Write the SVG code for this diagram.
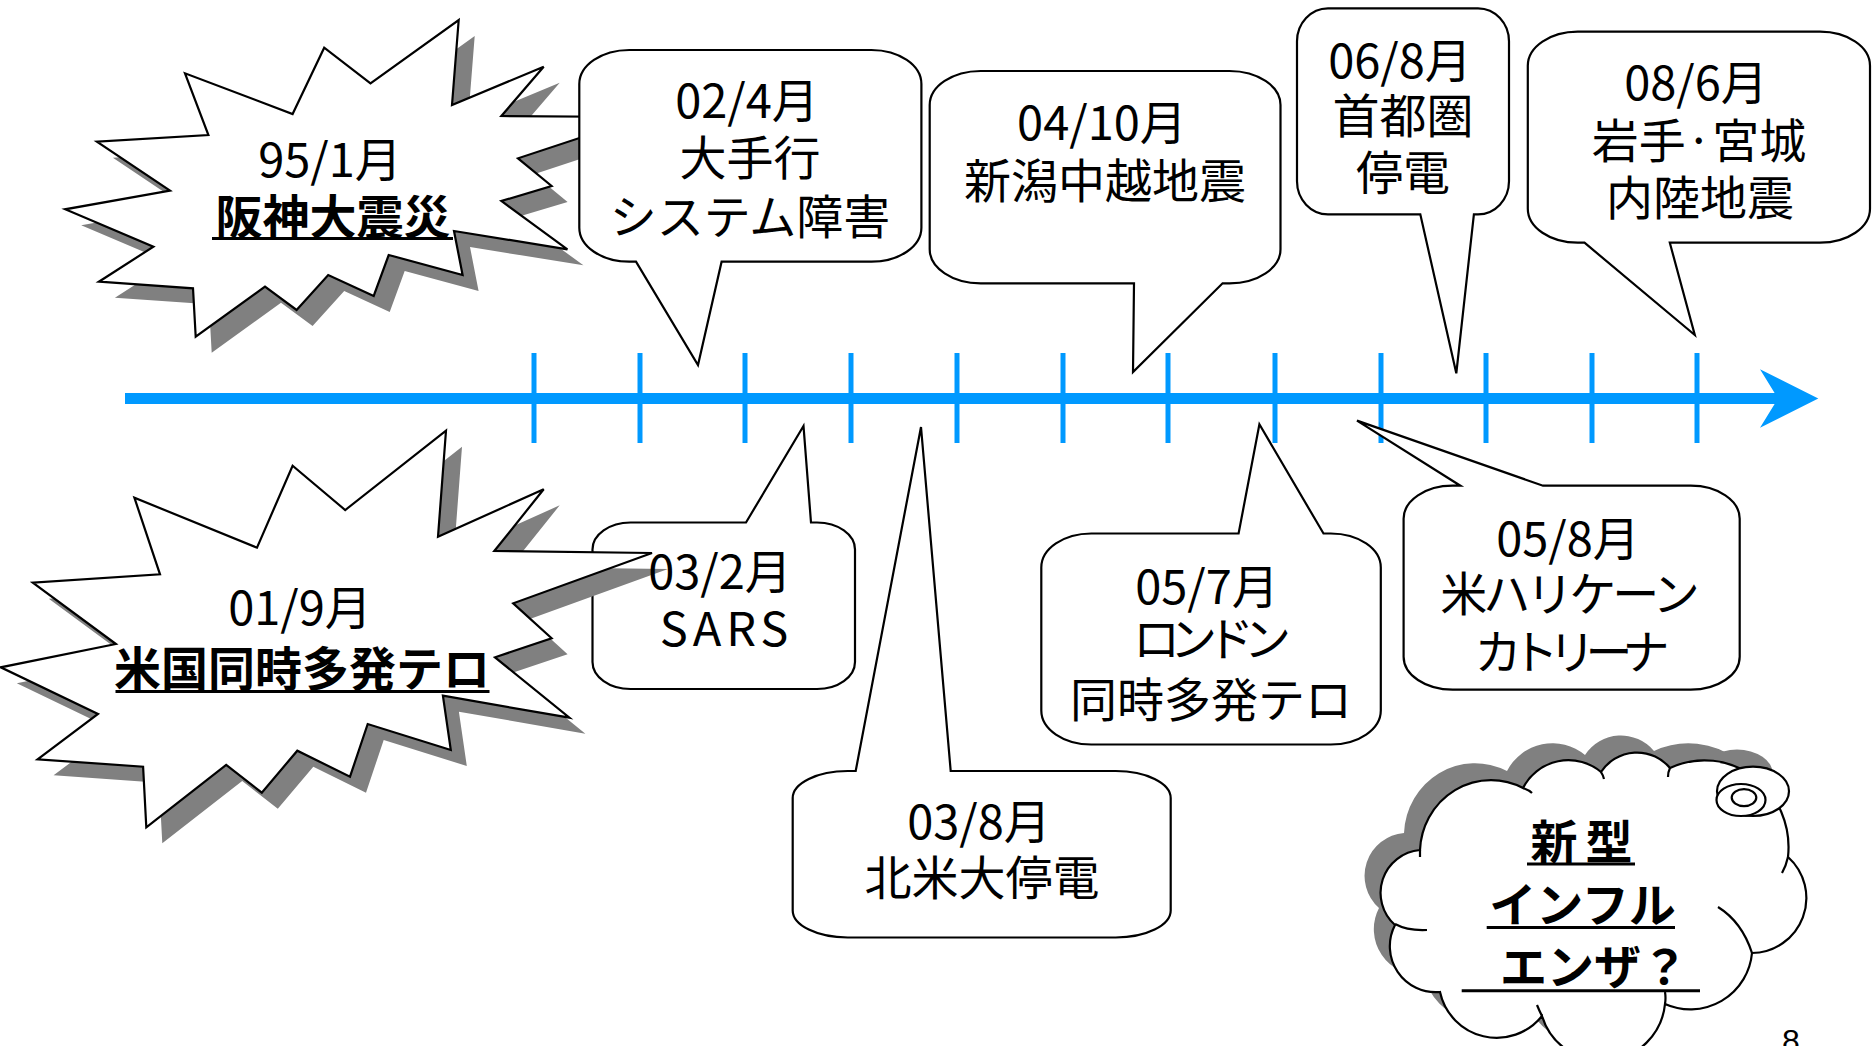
<svg xmlns="http://www.w3.org/2000/svg" xmlns:xlink="http://www.w3.org/1999/xlink" width="1873" height="1046" viewBox="0 0 1873 1046">
<style>
.o{fill:#fff;stroke:#000;stroke-width:2.2;stroke-linejoin:miter}
.st{fill:none;stroke:#000;stroke-width:2.2}
.sh{fill:#808080;stroke:none}
.t{font-family:"Noto Sans CJK JP","Noto Sans CJK SC","Liberation Sans",sans-serif;font-size:47px;text-anchor:middle;fill:#000}
.tb{font-weight:700}
.ul{stroke:#000;stroke-width:3}
.axis{stroke:#0099ff;stroke-width:11;fill:none}
.tick{stroke:#0099ff;stroke-width:5}
</style>
<defs>
<path id="burst1" d="M458.7,20 L452,105 L543.7,66.7 L501.4,116 L643,117 L518,158.3 L551.6,186 L501.4,201 L567.4,249.3 L454,231 L462.6,275 L388.7,255 L373.7,296 L328.2,275 L296.6,310 L265,286.7 L195.7,336.7 L193,288.3 L98.9,281.7 L153.4,246.7 L65.2,209.3 L170,190.7 L96.9,141.7 L208.4,135 L185,73.3 L292.6,114 L324.2,47.7 L370.5,83.3 Z"/>
<path id="burst2" d="M446,430.7 L438,536.7 L543.7,489.3 L494.3,551 L652,553 L513.2,603.3 L551.6,638.3 L495,657.3 L569.4,717.7 L442.9,695.7 L450.8,750 L367.7,724 L350,776.7 L297.3,750.7 L261.8,792.7 L226.2,765 L146.3,827.3 L143.1,766.7 L37.6,759.3 L98,714 L0.8,667.3 L115.9,644 L32.8,582.7 L160,574.3 L134.4,497.7 L257,547.7 L292.6,465.7 L345.2,510 Z"/>
<path id="cloud" d="M1395,925 A43 43 0 0 1 1420,850 A71 73 0 0 1 1523,788 A51 51 0 0 1 1601,772 A43 43 0 0 1 1670,768 A84 87 0 0 1 1788,857 A55 55 0 0 1 1752,953 A62 62 0 0 1 1665,1004 A63 63 0 0 1 1542,1016 A58 58 0 0 1 1440,992 A46 46 0 0 1 1395,925 Z"/>
</defs>

<g id="connectors">
<g id="timeline">
<line class="axis" x1="125" y1="398.5" x2="1780" y2="398.5"/>
<line class="tick" x1="534" y1="353" x2="534" y2="443"/>
<line class="tick" x1="640" y1="353" x2="640" y2="443"/>
<line class="tick" x1="745" y1="353" x2="745" y2="443"/>
<line class="tick" x1="851" y1="353" x2="851" y2="443"/>
<line class="tick" x1="957" y1="353" x2="957" y2="443"/>
<line class="tick" x1="1063" y1="353" x2="1063" y2="443"/>
<line class="tick" x1="1168" y1="353" x2="1168" y2="443"/>
<line class="tick" x1="1275" y1="353" x2="1275" y2="443"/>
<line class="tick" x1="1381" y1="353" x2="1381" y2="443"/>
<line class="tick" x1="1486" y1="353" x2="1486" y2="443"/>
<line class="tick" x1="1592" y1="353" x2="1592" y2="443"/>
<line class="tick" x1="1697" y1="353" x2="1697" y2="443"/>
<polygon points="1760,369.3 1818.3,398.5 1760,427.7 1778,398.5" fill="#0099ff"/>
</g>
</g>

<g id="n-hanshin">
<use xlink:href="#burst1" class="sh" transform="translate(16,16)"/>
<use xlink:href="#burst1" class="o"/>
<text class="t" x="330" y="177">95/1月</text>
<text class="t tb" x="333" y="234">阪神大震災</text>
<line class="ul" x1="212" y1="238.5" x2="453" y2="238.5"/>
</g>

<g id="n-0204">
<path class="o" d="M629.3,50 H871.4 A50 34 0 0 1 921.4,84 V227.7 A50 34 0 0 1 871.4,261.7 H721.6 L698,365 L636,261.7 H629.3 A50 34 0 0 1 579.3,227.7 V84 A50 34 0 0 1 629.3,50 Z"/>
<text class="t" x="747" y="118">02/4月</text>
<text class="t" x="750" y="175">大手行</text>
<text class="t" x="750" y="234">システム障害</text>
</g>

<g id="n-0410">
<path class="o" d="M980.7,71 H1229.5 A51 34 0 0 1 1280.5,105 V249.3 A51 34 0 0 1 1229.5,283.3 H1222.6 L1133,372 L1134,283.3 H980.7 A51 34 0 0 1 929.7,249.3 V105 A51 34 0 0 1 980.7,71 Z"/>
<text class="t" x="1102" y="140">04/10月</text>
<text class="t" x="1105" y="198">新潟中越地震</text>
</g>

<g id="n-0608">
<path class="o" d="M1328,8.3 H1478 A31 33 0 0 1 1509,41.3 V181.3 A31 33 0 0 1 1478,214.3 H1473.9 L1456.3,373.3 L1420.3,214.3 H1328 A31 33 0 0 1 1297,181.3 V41.3 A31 33 0 0 1 1328,8.3 Z"/>
<text class="t" x="1400" y="78">06/8月</text>
<text class="t" x="1403" y="133">首都圏</text>
<text class="t" x="1403" y="190">停電</text>
</g>

<g id="n-0806">
<path class="o" d="M1577.8,31.7 H1820 A50 34 0 0 1 1870,65.7 V208.7 A50 34 0 0 1 1820,242.7 H1669.8 L1694.8,335 L1584.5,242.7 H1577.8 A50 34 0 0 1 1527.8,208.7 V65.7 A50 34 0 0 1 1577.8,31.7 Z"/>
<text class="t" x="1696" y="100">08/6月</text>
<text class="t" x="1699" y="158">岩手·宮城</text>
<text class="t" x="1700" y="215">内陸地震</text>
</g>

<g id="n-sars">
<path class="o" d="M630.5,522.5 H746 L803.5,426 L811,522.5 H817 A38 27 0 0 1 855,549.5 V662 A38 27 0 0 1 817,689 H630.5 A38 27 0 0 1 592.5,662 V549.5 A38 27 0 0 1 630.5,522.5 Z"/>
</g>

<g id="n-911">
<use xlink:href="#burst2" class="sh" transform="translate(16,16)"/>
<use xlink:href="#burst2" class="o"/>
<text class="t" x="300" y="625">01/9月</text>
<text class="t tb" x="302" y="686">米国同時多発テロ</text>
<line class="ul" x1="115.5" y1="691.5" x2="489.5" y2="691.5"/>
</g>

<g id="n-sars-text">
<text class="t" x="720" y="589">03/2月</text>
<text class="t" x="726.5" y="646" letter-spacing="5">SARS</text>
</g>

<g id="n-0308">
<path class="o" d="M847.7,771 H855.7 L921,427 L950.7,771 H1115.7 A55 27 0 0 1 1170.7,798 V910.5 A55 27 0 0 1 1115.7,937.5 H847.7 A55 27 0 0 1 792.7,910.5 V798 A55 27 0 0 1 847.7,771 Z"/>
<text class="t" x="979" y="838.5">03/8月</text>
<text class="t" x="982" y="895">北米大停電</text>
</g>

<g id="n-0507">
<path class="o" d="M1091.3,533.5 H1238.6 L1259.4,424.3 L1323.5,533.5 H1330.8 A50 34 0 0 1 1380.8,567.5 V710.5 A50 34 0 0 1 1330.8,744.5 H1091.3 A50 34 0 0 1 1041.3,710.5 V567.5 A50 34 0 0 1 1091.3,533.5 Z"/>
<text class="t" x="1207" y="603.5">05/7月</text>
<text class="t" x="1207" y="656" letter-spacing="-10">ロンドン</text>
<text class="t" x="1211" y="716.5">同時多発テロ</text>
</g>

<g id="n-0508">
<path class="o" d="M1452.6,485.7 H1460.4 L1357,420.6 L1543,485.7 H1690.7 A49 33 0 0 1 1739.7,518.7 V656.7 A49 33 0 0 1 1690.7,689.7 H1452.6 A49 33 0 0 1 1403.6,656.7 V518.7 A49 33 0 0 1 1452.6,485.7 Z"/>
<text class="t" x="1568" y="555.7">05/8月</text>
<text class="t" x="1568" y="611" letter-spacing="-4">米ハリケーン</text>
<text class="t" x="1567" y="669" letter-spacing="-10">カトリーナ</text>
</g>

<g id="n-influenza">
<g transform="translate(-16,-17)" class="sh">
<use xlink:href="#cloud"/>
<ellipse cx="1753" cy="791.3" rx="36" ry="24.7"/>
</g>
<use xlink:href="#cloud" class="o"/>
<path class="st" d="M1395,924 Q1408,931 1427,930 M1420,850 L1420,857 M1523,788 Q1529,790 1532,793 M1601,772 Q1603,775 1604,779 M1670,768 Q1668,772 1668,777 M1788,857 Q1786,866 1782,873 M1752,953 Q1742,922 1718,907 M1665,1004 Q1666,998 1665,992 M1542,1016 Q1539,1010 1537,1005"/>
<ellipse class="o" cx="1753" cy="791.3" rx="36" ry="24.7"/>
<ellipse class="o" cx="1741" cy="800" rx="24.5" ry="16"/>
<ellipse class="o" cx="1744" cy="797.6" rx="12.3" ry="8.5"/>
<text class="t tb" x="1585.5" y="859" font-size="54" letter-spacing="8">新型</text>
<line class="ul" x1="1527" y1="864" x2="1635" y2="864"/>
<text class="t tb" x="1582.5" y="922" font-size="52">インフル</text>
<line class="ul" x1="1486.7" y1="927.5" x2="1675" y2="927.5"/>
<text class="t tb" x="1594" y="984" font-size="52">エンザ？</text>
<line class="ul" x1="1461.7" y1="990.7" x2="1700" y2="990.7"/>
</g>

<g id="page-number">
<text x="1791" y="1052" font-family="Liberation Sans, sans-serif" font-size="32" text-anchor="middle" fill="#000">8</text>
</g>
</svg>
